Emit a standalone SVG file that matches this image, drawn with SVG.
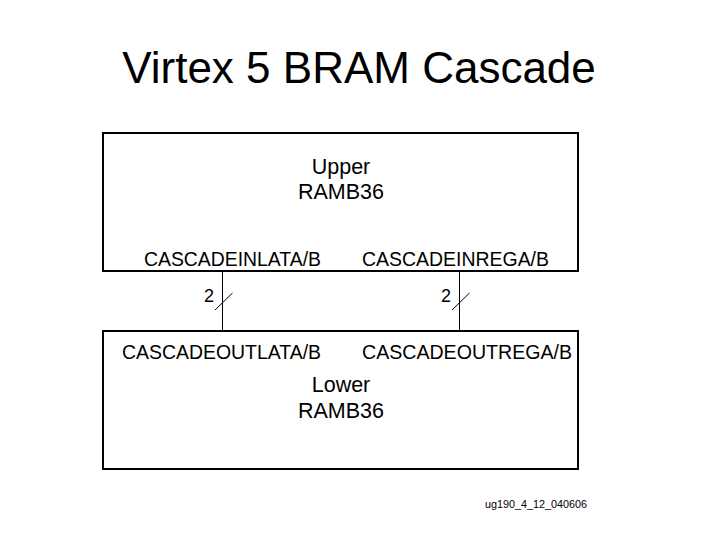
<svg xmlns="http://www.w3.org/2000/svg" width="720" height="540" viewBox="0 0 720 540">
<style>
text{font-family:"Liberation Sans",Arial,sans-serif;fill:#000}
.box{fill:#fff;stroke:#000;stroke-width:2}
.lbl{font-size:20px}
.mid{font-size:21.5px;text-anchor:middle}
.w{stroke:#000;stroke-width:1;fill:none}
</style>
<rect width="720" height="540" fill="#fff"/>
<text x="359" y="83" font-size="44" text-anchor="middle">Virtex 5 BRAM Cascade</text>
<g id="upper">
<rect class="box" x="103" y="133" width="475" height="138"/>
<text class="mid" x="341" y="174">Upper</text>
<text class="mid" x="341" y="199">RAMB36</text>
<text class="lbl" x="144" y="266" textLength="177" lengthAdjust="spacingAndGlyphs">CASCADEINLATA/B</text>
<text class="lbl" x="362" y="266" textLength="187" lengthAdjust="spacingAndGlyphs">CASCADEINREGA/B</text>
</g>
<g id="lower">
<rect class="box" x="103" y="331" width="475" height="138"/>
<text class="lbl" x="122" y="359" textLength="199" lengthAdjust="spacingAndGlyphs">CASCADEOUTLATA/B</text>
<text class="lbl" x="362" y="359" textLength="210" lengthAdjust="spacingAndGlyphs">CASCADEOUTREGA/B</text>
<text class="mid" x="341" y="392">Lower</text>
<text class="mid" x="341" y="418">RAMB36</text>
</g>
<g id="connectors">
<line class="w" x1="222.5" y1="271" x2="222.5" y2="331"/>
<line class="w" x1="215" y1="310" x2="232.5" y2="293"/>
<text x="204" y="302" font-size="18">2</text>
<line class="w" x1="459.5" y1="271" x2="459.5" y2="331"/>
<line class="w" x1="452" y1="310" x2="469.5" y2="293"/>
<text x="441" y="302" font-size="18">2</text>
</g>
<text x="485" y="508" font-size="10" fill="#222" textLength="102" lengthAdjust="spacingAndGlyphs">ug190_4_12_040606</text>
</svg>
